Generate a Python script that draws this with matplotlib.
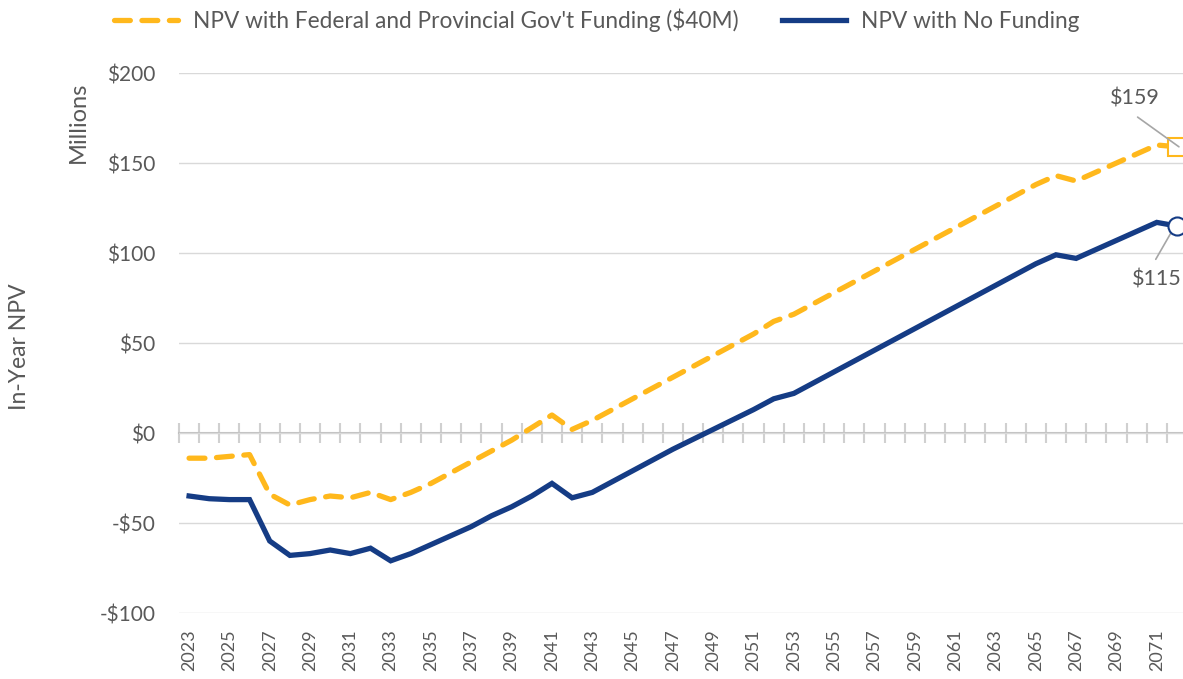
import matplotlib.pyplot as plt
import numpy as np

plt.rcParams['font.family'] = ['Lato', 'DejaVu Sans']

years = list(range(2023, 2073))

# NPV with Federal and Provincial Gov't Funding ($40M), $ millions
npv_funding = [-14, -14, -13, -12, -34, -40, -37, -35, -36, -33,
               -37, -33, -28, -22, -16, -10, -4, 3, 10, 2,
               7, 13, 19, 25, 31, 37, 43, 49, 55, 62,
               66, 72, 78, 84, 90, 96, 102, 108, 114, 120,
               126, 132, 138, 143, 140, 145, 150, 155, 160, 159]

# NPV with No Funding, $ millions
npv_none = [-35, -36.5, -37, -37, -60, -68, -67, -65, -67, -64,
            -71, -67, -62, -57, -52, -46, -41, -35, -28, -36,
            -33, -27, -21, -15, -9, -3.5, 2, 7.5, 13, 19,
            22, 28, 34, 40, 46, 52, 58, 64, 70, 76,
            82, 88, 94, 99, 97, 102, 107, 112, 117, 115]

yticks = [-100, -50, 0, 50, 100, 150, 200]
ytick_labels = ['-$100', '-$50', '$0', '$50', '$100', '$150', '$200']

gold = '#FFB81C'
navy = '#153C85'
txt = '#595959'
grid = '#D9D9D9'
leader = '#A6A6A6'

fig = plt.figure(figsize=(11.83, 6.79), dpi=100)
ax = fig.add_axes([179 / 1183, 1 - 613 / 679, 1008 / 1183, 540 / 679])

ax.plot(years, npv_funding, color=gold, lw=3.8, ls=(0, (3, 2.2)),
        dash_capstyle='round', solid_capstyle='round', zorder=3,
        label="NPV with Federal and Provincial Gov't Funding ($40M)")
ax.plot(years, npv_none, color=navy, lw=3.8, solid_joinstyle='miter',
        zorder=3, label='NPV with No Funding')

# end markers
ax.plot(years[-1], npv_funding[-1], marker='s', ms=13, mfc='white',
        mec=gold, mew=1.5, zorder=5, clip_on=False)
ax.plot(years[-1], npv_none[-1], marker='o', ms=13, mfc='white',
        mec=navy, mew=1.5, zorder=5, clip_on=False)

# end labels with leader lines
ax.text(2069.9, 186, '$' + str(npv_funding[-1]), ha='center', va='center',
        fontsize=15.5, color=txt)
ax.annotate('', xy=(years[-1] + 0.1, npv_funding[-1]), xytext=(2070.05, 175.5),
            arrowprops=dict(arrowstyle='-', color=leader, lw=1.2, shrinkA=0, shrinkB=0),
            zorder=6)
ax.text(2071.0, 85, '$' + str(npv_none[-1]), ha='center', va='center',
        fontsize=15.5, color=txt)
ax.annotate('', xy=(years[-1] - 0.1, npv_none[-1]), xytext=(2070.95, 96.5),
            arrowprops=dict(arrowstyle='-', color=leader, lw=1.2, shrinkA=0, shrinkB=0),
            zorder=4)

ax.set_xlim(2022.5, 2072.5)
ax.set_ylim(-100, 200)
ax.set_yticks(yticks)
ax.set_yticklabels(ytick_labels)
ax.grid(axis='y', color=grid, lw=1)
ax.set_axisbelow(True)
for s in ax.spines.values():
    s.set_visible(False)
ax.tick_params(axis='y', length=0, pad=17, labelsize=15, labelcolor=txt)

ax.set_xticks(years[::2])
ax.set_xticklabels([str(y) for y in years[::2]], rotation=90)
ax.tick_params(axis='x', length=0, pad=12, labelsize=13, labelcolor=txt)

# category axis crossing at zero
sec = ax.secondary_xaxis(1 / 3)
sec.spines['bottom'].set_color('#BFBFBF')
sec.spines['bottom'].set_linewidth(1.5)
sec.set_xticks(np.arange(2022.5, 2073, 1))
sec.tick_params(axis='x', direction='inout', length=15, width=1.5,
                color='#D0D0D0', labelbottom=False)

fig.text(78 / 1183, 1 - 122 / 679, 'Millions', rotation=90, ha='center',
         va='center', fontsize=17, color=txt)
fig.text(20 / 1183, 1 - 347 / 679, 'In-Year NPV', rotation=90, ha='center',
         va='center', fontsize=16.5, color=txt)

fig.legend(loc='center', bbox_to_anchor=(597 / 1183, 1 - 20 / 679), ncol=2, frameon=False,
           fontsize=16.3, labelcolor=txt, handlelength=2.8, columnspacing=1.9,
           handletextpad=0.7)

fig.savefig('out.png', dpi=100)
